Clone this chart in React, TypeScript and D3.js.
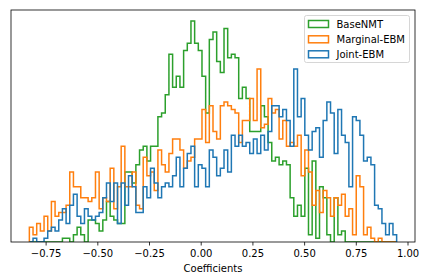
import React from "react";
import * as d3 from "d3";

// histogram counts, 100 shared bins between binLo and binHi
const binLo = -0.831;
const binHi = 0.945;

const baseNMT = [
  0, 0, 0, 0, 0, 0, 0, 0, 0, 1,
  1, 0, 2, 4, 2, 0, 6, 6, 5, 3,
  6, 11, 7, 6, 5, 5, 19, 19, 16, 21,
  25, 26, 22, 26, 26, 34, 35, 40, 51, 42,
  45, 42, 52, 54, 60, 54, 52, 45, 35, 55,
  57, 49, 46, 58, 50, 51, 50, 39, 42, 39,
  30, 30, 30, 37, 34, 27, 22, 23, 21, 22,
  21, 12, 7, 10, 7, 20, 2, 22, 1, 15,
  12, 2, 0, 12, 2, 3, 0, 0, 0, 0,
  0, 0, 0, 0, 0, 0, 0, 0, 0, 0,
];

const marginalEBM = [
  4, 2, 5, 3, 7, 3, 11, 7, 8, 8,
  10, 19, 15, 15, 12, 12, 11, 12, 19, 9,
  12, 11, 20, 9, 15, 26, 15, 15, 19, 10,
  9, 23, 18, 19, 14, 25, 21, 19, 24, 28,
  28, 25, 20, 22, 23, 28, 28, 36, 27, 37,
  30, 28, 37, 38, 37, 36, 35, 27, 33, 33,
  39, 33, 47, 31, 32, 39, 35, 36, 28, 33,
  26, 27, 26, 29, 18, 25, 19, 10, 14, 8,
  14, 12, 7, 12, 10, 13, 7, 9, 2, 18,
  15, 2, 4, 1, 0, 1, 0, 0, 0, 0,
];

const jointEBM = [
  0, 1, 0, 0, 1, 3, 4, 3, 6, 9,
  5, 10, 13, 7, 5, 9, 7, 6, 7, 8,
  12, 16, 11, 16, 5, 16, 10, 18, 15, 8,
  8, 15, 12, 20, 16, 12, 15, 16, 15, 18,
  23, 15, 20, 24, 26, 15, 21, 20, 15, 25,
  23, 18, 20, 25, 19, 29, 26, 29, 26, 27,
  24, 28, 24, 29, 25, 30, 37, 37, 34, 36,
  33, 26, 47, 34, 39, 29, 25, 30, 31, 23,
  33, 38, 35, 24, 36, 29, 27, 15, 34, 33,
  29, 22, 23, 21, 10, 9, 5, 2, 5, 2,
];

const seriesNames = ["BaseNMT", "Marginal-EBM", "Joint-EBM"];
const seriesColors = ["#2ca02c", "#ff7f0e", "#1f77b4"];
const xTicks = [-0.75, -0.5, -0.25, 0, 0.25, 0.5, 0.75, 1.0];

const W = 424;
const H = 280;
const plot = { left: 11, right: 415, top: 10, bottom: 242 };
const font = "DejaVu Sans, sans-serif";

export default function App() {
  const series = [baseNMT, marginalEBM, jointEBM];
  const nBins = baseNMT.length;
  const edges = d3.range(nBins + 1).map((i) => binLo + ((binHi - binLo) * i) / nBins);

  const pad = (binHi - binLo) * 0.05;
  const x = d3.scaleLinear().domain([binLo - pad, binHi + pad]).range([plot.left, plot.right]);
  const maxCount = d3.max(series, (s) => d3.max(s)) as number;
  const y = d3.scaleLinear().domain([0, maxCount * 1.05]).range([plot.bottom, plot.top]);

  const line = d3.line<[number, number]>()
    .x((d) => x(d[0]))
    .y((d) => y(d[1]));

  const stepPath = (counts: number[]) => {
    const pts: [number, number][] = [[edges[0], 0]];
    counts.forEach((c, i) => {
      pts.push([edges[i], c]);
      pts.push([edges[i + 1], c]);
    });
    pts.push([edges[nBins], 0]);
    return line(pts) as string;
  };

  const fmt = d3.format(".2f");
  const legendRows = [24, 39.3, 54.3];

  return (
    <svg width={W} height={H} style={{ position: "absolute", left: 0, top: 0, background: "#fff" }} fontFamily={font}>
      <defs>
        <clipPath id="plotclip">
          <rect x={plot.left} y={plot.top} width={plot.right - plot.left} height={plot.bottom - plot.top} />
        </clipPath>
      </defs>
      <g clipPath="url(#plotclip)">
        {series.map((s, i) => (
          <path key={seriesNames[i]} d={stepPath(s)} fill="none" stroke={seriesColors[i]} strokeWidth={1.5} strokeLinejoin="miter" />
        ))}
      </g>
      <rect x={plot.left} y={plot.top} width={plot.right - plot.left} height={plot.bottom - plot.top}
        fill="none" stroke="#000" strokeWidth={0.8} />
      {xTicks.map((t) => (
        <g key={t} transform={`translate(${x(t)},${plot.bottom})`}>
          <line y1={0} y2={3.5} stroke="#000" strokeWidth={0.8} />
          <text y={14.5} textAnchor="middle" fontSize={10} fill="#000">{fmt(t)}</text>
        </g>
      ))}
      <text x={(plot.left + plot.right) / 2} y={272} textAnchor="middle" fontSize={10} fill="#000">Coefficients</text>
      <g>
        <rect x={304.5} y={15.5} width={105} height={47} rx={2} fill="#fff" fillOpacity={0.8} stroke="#cccccc" strokeWidth={0.8} />
        {seriesNames.map((name, i) => (
          <g key={name}>
            <rect x={308.5} y={legendRows[i] - 3.5} width={20} height={7} fill="none" stroke={seriesColors[i]} strokeWidth={1.5} />
            <text x={336.5} y={legendRows[i] + 3.6} fontSize={10} fill="#000">{name}</text>
          </g>
        ))}
      </g>
    </svg>
  );
}
